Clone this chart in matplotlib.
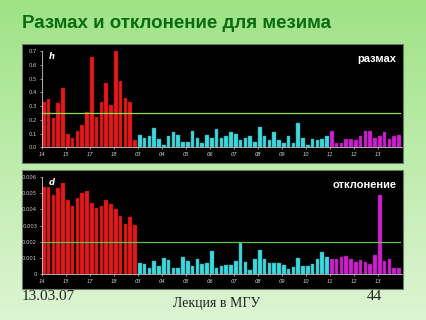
import numpy as np
import matplotlib.pyplot as plt
from matplotlib.patches import Rectangle

# tick labels (one label every 5 bars)
tick_labels = ['14', '15', '17', '18', '03', '04', '05', '06', '07', '08',
               '09', '10', '11', '12', '13']

# размах (h)
h_red = [0.33, 0.35, 0.21, 0.32, 0.43, 0.10, 0.07, 0.12, 0.16, 0.26,
         0.66, 0.22, 0.33, 0.47, 0.31, 0.70, 0.48, 0.36, 0.33, 0.05]
h_cyan = [0.09, 0.07, 0.08, 0.14, 0.06, 0.02, 0.08, 0.11, 0.09, 0.04,
          0.04, 0.12, 0.07, 0.03, 0.09, 0.07, 0.13, 0.07, 0.08, 0.11,
          0.10, 0.05, 0.07, 0.08, 0.04, 0.15, 0.08, 0.05, 0.11, 0.05,
          0.03, 0.08, 0.03, 0.18, 0.07, 0.02, 0.06, 0.05, 0.06, 0.08]
h_magenta = [0.12, 0.03, 0.03, 0.06, 0.06, 0.05, 0.08, 0.12, 0.12, 0.07,
             0.08, 0.11, 0.06, 0.08, 0.09]
h_level = 0.25

# отклонение (d)
d_red = [0.00535, 0.00535, 0.0049, 0.0053, 0.0056, 0.00457, 0.0042, 0.0047,
         0.0050, 0.0051, 0.00437, 0.0041, 0.0042, 0.00457, 0.0043, 0.0040,
         0.00359, 0.0031, 0.00355, 0.00303]
d_cyan = [0.00072, 0.00064, 0.00036, 0.00084, 0.00048, 0.00100, 0.00088,
          0.00038, 0.00038, 0.00106, 0.00084, 0.00048, 0.00096, 0.00062,
          0.00068, 0.00143, 0.00040, 0.00053, 0.00057, 0.00057, 0.00084,
          0.0019, 0.00078, 0.00027, 0.00094, 0.0015, 0.00092, 0.00072,
          0.00072, 0.00072, 0.00057, 0.0003, 0.00047, 0.00098, 0.00053,
          0.00053, 0.00064, 0.00092, 0.00135, 0.00105]
d_magenta = [0.00092, 0.00092, 0.00105, 0.0011, 0.00092, 0.00074, 0.00088,
             0.00078, 0.00064, 0.0012, 0.0049, 0.00084, 0.00094, 0.0004, 0.0004]
d_level = 0.002

W, H = 427, 320
fig = plt.figure(figsize=(W / 100, H / 100), dpi=100)

# light green gradient background, black panel boxes drawn on it
bg = fig.add_axes([0, 0, 1, 1], zorder=-5)
grad = np.linspace(0, 1, 256).reshape(-1, 1)
top = np.array([0.62, 0.89, 0.52])
bot = np.array([0.87, 0.96, 0.83])
img = top + (bot - top) * grad[..., None]
bg.imshow(img, aspect='auto', extent=[0, 1, 0, 1], origin='upper')
bg.set_xlim(0, 1)
bg.set_ylim(0, 1)
bg.set_axis_off()
for y0, y1 in [(44, 163), (170, 289)]:
    bg.add_patch(Rectangle((22 / W, 1 - y1 / H), (403 - 22) / W, (y1 - y0) / H,
                           facecolor='black', edgecolor='#6a7a6a', linewidth=0.8))

fig.text(22 / W, 1 - 24 / H, 'Размах и отклонение для мезима', fontsize=13.5,
         fontweight='bold', color='#0b6b12', family='Liberation Sans', va='center')


def panel(rect, red, cyan, magenta, level, ymax, ystep, fmt, letter, name, line_color):
    ax = fig.add_axes(rect)
    ax.patch.set_alpha(0)
    n_r, n_c = len(red), len(cyan)
    xr = np.arange(n_r)
    xc = np.arange(n_r, n_r + n_c)
    xm = np.arange(n_r + n_c, n_r + n_c + len(magenta))
    ax.bar(xr, red, width=0.75, align='edge', color='#e3191b', edgecolor='#a00000', linewidth=0.3)
    ax.bar(xc, cyan, width=0.75, align='edge', color='#3fd6dc', edgecolor='#1aa0a8', linewidth=0.3)
    ax.bar(xm, magenta, width=0.75, align='edge', color='#cc22cc', edgecolor='#900090', linewidth=0.3)
    ax.axhline(level, color=line_color, linewidth=0.9, xmin=0, xmax=0.995)
    total = n_r + n_c + len(magenta)
    ax.set_xlim(0, total)
    ax.set_ylim(0, ymax)
    ax.set_xticks(np.arange(0, total, 5))
    ax.set_xticklabels(tick_labels, fontsize=3.8, color='#cccccc', style='italic')
    yt = np.arange(0, ymax + ystep / 2, ystep)
    ax.set_yticks(yt)
    ax.set_yticklabels([fmt(v) for v in yt], fontsize=3.8, color='#cccccc')
    ax.tick_params(length=1.5, width=0.5, color='#cccccc', pad=2)
    for s in ['top', 'right']:
        ax.spines[s].set_visible(False)
    for s in ['left', 'bottom']:
        ax.spines[s].set_color('#cccccc')
        ax.spines[s].set_linewidth(0.6)
    ax.text(0.018, 0.985, letter, transform=ax.transAxes, color='white', fontsize=6,
            fontweight='bold', style='italic', va='top')
    ax.text(0.985, 0.92, name, transform=ax.transAxes, color='white', fontsize=8,
            fontweight='bold', ha='right', va='center', family='Liberation Sans')
    return ax


panel([42 / W, 1 - 147.3 / H, 360 / W, 96.3 / H], h_red, h_cyan, h_magenta, h_level,
      0.7, 0.1, lambda v: f'{v:.1f}', 'h', 'размах', '#8ee04a')
panel([42 / W, 1 - 274.3 / H, 360 / W, 97.6 / H], d_red, d_cyan, d_magenta, d_level,
      0.006, 0.001, lambda v: '0' if v == 0 else f'{v:.3f}', 'd', 'отклонение', '#5cc44a')

fig.text(22 / W, 1 - 297 / H, '13.03.07', fontsize=11, family='Liberation Serif',
         color='#222222', va='center')
fig.text(217 / W, 1 - 303 / H, 'Лекция в МГУ', fontsize=10, family='Liberation Serif',
         color='#222222', ha='center', va='center')
fig.text(374 / W, 1 - 297 / H, '44', fontsize=11, family='Liberation Serif',
         color='#222222', ha='center', va='center')

fig.savefig('out.png', dpi=100)
